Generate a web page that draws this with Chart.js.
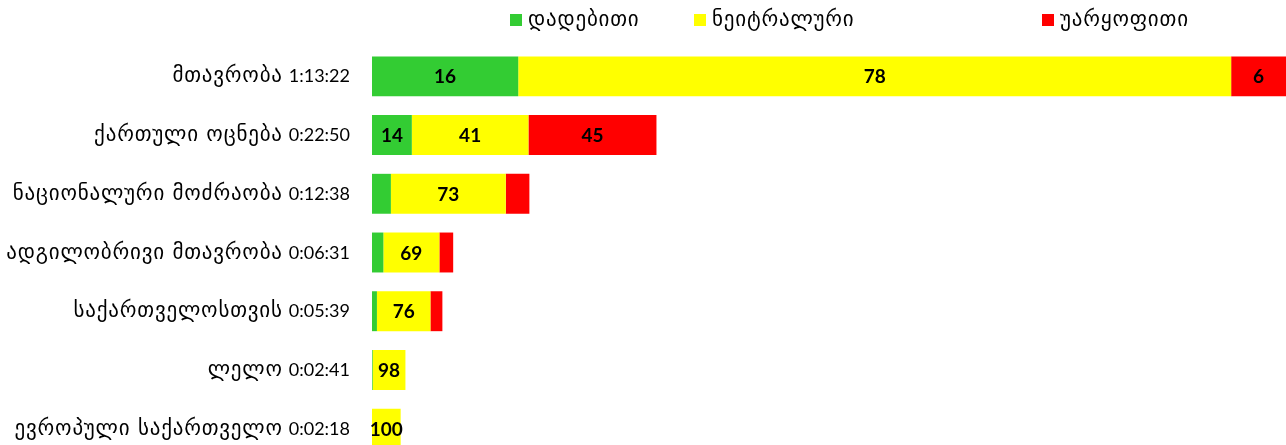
<!DOCTYPE html>
<html>
<head>
<meta charset="utf-8">
<script src="https://cdn.jsdelivr.net/npm/chart.js@4/dist/chart.umd.min.js"></script>
<style>
    html, body { margin: 0; padding: 0; background: #fff; overflow: hidden; }
    canvas { display: block; }
</style>
</head>
<body>
<canvas id="airtime-chart" width="1286" height="458"></canvas>
<script>
// categories (party + air time)
const parties = [
    'მთავრობა 1:13:22',
    'ქართული ოცნება 0:22:50',
    'ნაციონალური მოძრაობა 0:12:38',
    'ადგილობრივი მთავრობა 0:06:31',
    'საქართველოსთვის 0:05:39',
    'ლელო 0:02:41',
    'ევროპული საქართველო 0:02:18'
];
// air time in seconds -> bar length
const durations = [4402, 1370, 758, 391, 339, 161, 138];
// tone shares, %
const positive = [16, 14, 12, 14, 7, 2, 0];
const neutral = [78, 41, 73, 69, 76, 98, 100];
const negative = [6, 45, 15, 17, 17, 0, 0];

const seriesNames = ['დადებითი', 'ნეიტრალური', 'უარყოფითი'];
const seriesColors = ['#33CC33', '#FFFF00', '#FF0000'];
const legendX = [510, 694, 1042];

const geoFont = '21px "DejaVu Sans", sans-serif';
const geoSpacing = '0.8px';
const digitFont = '18px Lato, "DejaVu Sans", sans-serif';

function toSeconds(shares) {
    return shares.map((p, i) => p * durations[i] / 100);
}

// category names: georgian part and time part drawn with different fonts
const categoryLabels = {
    id: 'categoryLabels',
    afterDraw(chart) {
        const ctx = chart.ctx;
        const yScale = chart.scales.y;
        const right = chart.chartArea.left - 22;
        ctx.save();
        ctx.fillStyle = '#000';
        ctx.textBaseline = 'alphabetic';
        ctx.textAlign = 'right';
        parties.forEach((label, i) => {
            const cut = label.lastIndexOf(' ');
            const name = label.slice(0, cut);
            const time = label.slice(cut + 1);
            const y = yScale.getPixelForValue(i) + 6;
            ctx.letterSpacing = '0px';
            ctx.font = digitFont;
            ctx.fillText(time, right, y);
            const tw = ctx.measureText(time).width + 6;
            ctx.font = geoFont;
            ctx.letterSpacing = geoSpacing;
            ctx.fillText(name, right - tw, y);
        });
        ctx.restore();
    }
};

// percentage labels inside the segments
const segmentLabels = {
    id: 'segmentLabels',
    afterDatasetsDraw(chart) {
        const ctx = chart.ctx;
        ctx.save();
        ctx.font = 'bold 19px Lato, "DejaVu Sans", sans-serif';
        ctx.fillStyle = '#000';
        ctx.textAlign = 'center';
        ctx.textBaseline = 'middle';
        chart.data.datasets.forEach((ds, di) => {
            chart.getDatasetMeta(di).data.forEach((bar, i) => {
                const w = Math.abs(bar.x - bar.base);
                if (ds.shares[i] > 0 && w >= 26) {
                    ctx.fillText(ds.shares[i], (bar.x + bar.base) / 2, bar.y + 1);
                }
            });
        });
        ctx.restore();
    }
};

// legend on top, spaced like the original
const topLegend = {
    id: 'topLegend',
    afterDraw(chart) {
        const ctx = chart.ctx;
        ctx.save();
        ctx.font = geoFont;
        ctx.letterSpacing = geoSpacing;
        ctx.textBaseline = 'alphabetic';
        ctx.textAlign = 'left';
        seriesNames.forEach((name, i) => {
            ctx.fillStyle = seriesColors[i];
            ctx.fillRect(legendX[i], 14, 12, 12);
            ctx.fillStyle = '#000';
            ctx.fillText(name, legendX[i] + 18, 26);
        });
        ctx.restore();
    }
};

const chartEl = document.getElementById('airtime-chart');
new Chart(chartEl, {
    type: 'bar',
    data: {
        labels: parties,
        datasets: [
            {label: seriesNames[0], data: toSeconds(positive), shares: positive, backgroundColor: seriesColors[0]},
            {label: seriesNames[1], data: toSeconds(neutral), shares: neutral, backgroundColor: seriesColors[1]},
            {label: seriesNames[2], data: toSeconds(negative), shares: negative, backgroundColor: seriesColors[2]}
        ]
    },
    options: {
        indexAxis: 'y',
        animation: false,
        responsive: false,
        layout: {
            padding: {top: 47, right: 0, bottom: 0, left: 0}
        },
        datasets: {
            bar: {
                categoryPercentage: 1,
                barPercentage: 0.68,
                borderWidth: 0
            }
        },
        scales: {
            x: {
                stacked: true,
                display: false,
                min: 0,
                max: durations[0]
            },
            y: {
                stacked: true,
                border: {display: false},
                grid: {display: false, drawTicks: false},
                ticks: {display: false},
                afterFit: function (axis) {
                    axis.width = 372;
                }
            }
        },
        plugins: {
            legend: {display: false},
            tooltip: {enabled: false}
        }
    },
    plugins: [segmentLabels, categoryLabels, topLegend]
});
</script>
</body>
</html>
